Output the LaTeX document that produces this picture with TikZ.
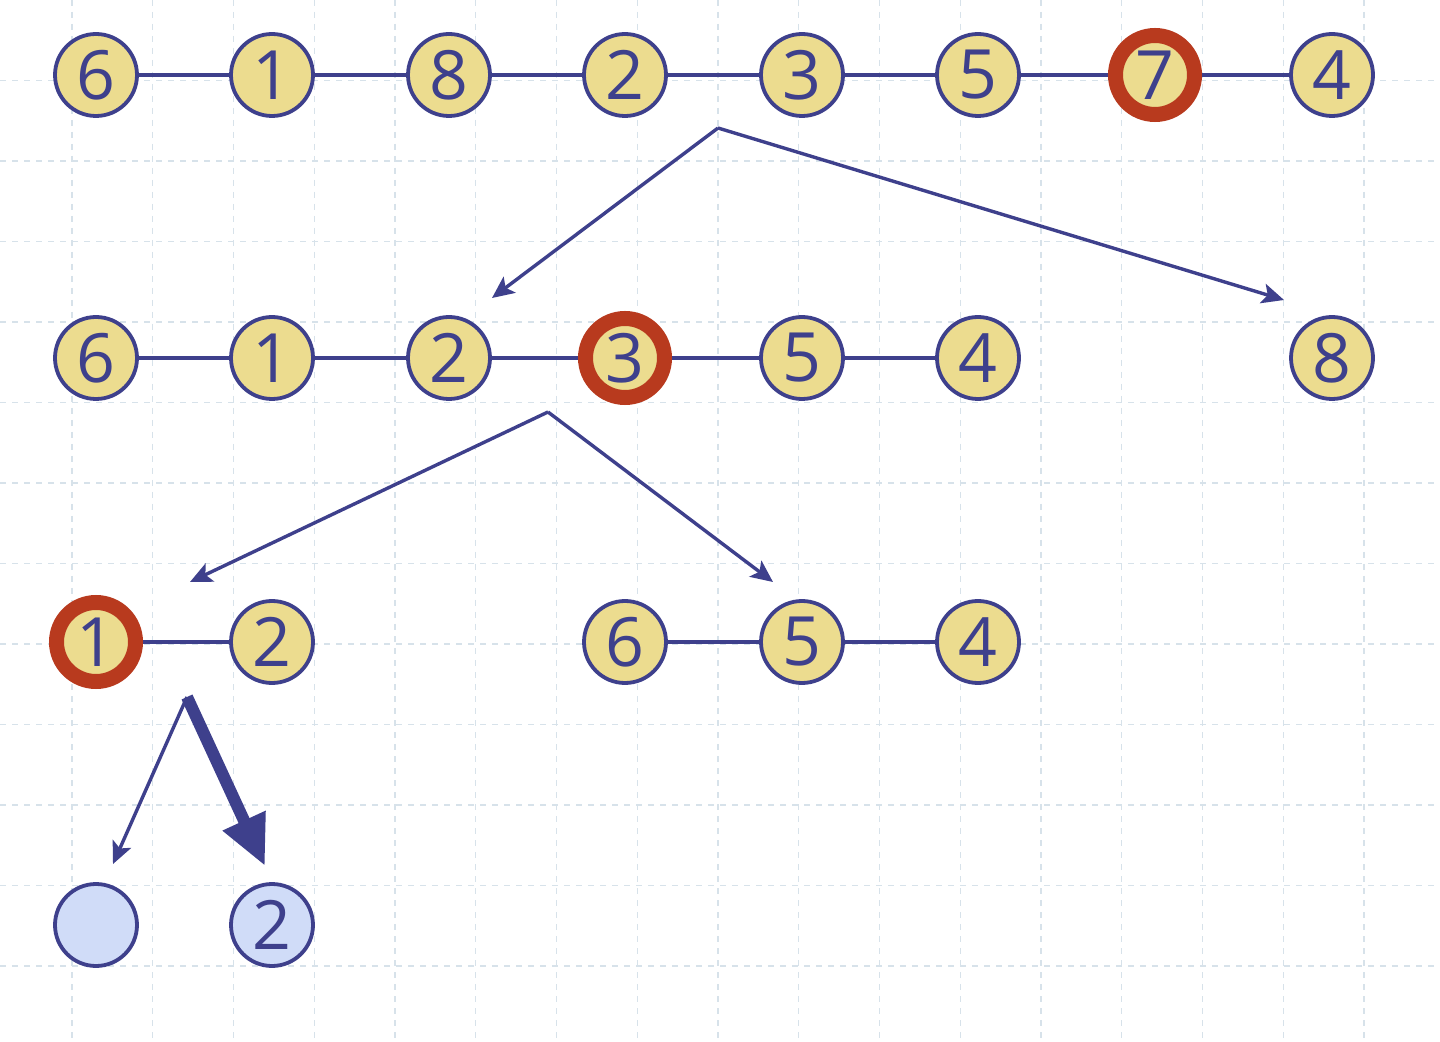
\documentclass[tikz,border=0pt]{standalone}
\usepackage{fontspec}
\setmainfont{Open Sans}
\usetikzlibrary{arrows.meta}
\definecolor{navy}{RGB}{62,64,140}
\definecolor{sand}{RGB}{236,220,143}
\definecolor{rust}{RGB}{184,58,30}
\definecolor{pale}{RGB}{208,220,248}
\definecolor{gridc}{RGB}{215,226,234}
\tikzset{
  nd/.style={circle,draw=navy,fill=sand,line width=1.9pt,minimum size=41pt,inner sep=0pt,text=navy,font=\fontsize{34}{34}\selectfont},
  hot/.style={nd,draw=rust,line width=7.5pt,minimum size=39.5pt},
  leaf/.style={nd,fill=pale},
  link/.style={draw=navy,line width=2pt},
  arr/.style={draw=navy,line width=1.7pt,-{Stealth[length=11pt,width=10pt,inset=2.5pt]}},
  bigarr/.style={draw=navy,line width=6pt,-{Triangle[length=25pt,width=22pt]}},
}
\begin{document}
\begin{tikzpicture}[x=0.5pt,y=-0.5pt]
\useasboundingbox (0,0) rectangle (1440,1042);
\fill[white] (0,0) rectangle (1440,1042);
\foreach \i in {0,...,17} \draw[gridc,line width=0.6pt,dashed] ({72+80.75*\i},0) -- ({72+80.75*\i},1042);
\foreach \j in {1,...,12} \draw[gridc,line width=0.6pt,dashed] (0,{80.5*\j}) -- (1440,{80.5*\j});
% row 1
\node[nd]  (a1) at (96,75) {6};
\node[nd]  (a2) at (272,75) {1};
\node[nd]  (a3) at (449,75) {8};
\node[nd]  (a4) at (625,75) {2};
\node[nd]  (a5) at (802,75) {3};
\node[nd]  (a6) at (978,75) {5};
\node[hot] (a7) at (1155,75) {7};
\node[nd]  (a8) at (1332,75) {4};
\foreach \p/\q in {a1/a2,a2/a3,a3/a4,a4/a5,a5/a6,a6/a7,a7/a8} \draw[link] (\p) -- (\q);
% row 2
\node[nd]  (b1) at (96,358) {6};
\node[nd]  (b2) at (272,358) {1};
\node[nd]  (b3) at (449,358) {2};
\node[hot] (b4) at (625,358) {3};
\node[nd]  (b5) at (802,358) {5};
\node[nd]  (b6) at (978,358) {4};
\node[nd]  (b7) at (1332,358) {8};
\foreach \p/\q in {b1/b2,b2/b3,b3/b4,b4/b5,b5/b6} \draw[link] (\p) -- (\q);
% row 3
\node[hot] (c1) at (96,642) {1};
\node[nd]  (c2) at (272,642) {2};
\node[nd]  (c3) at (625,642) {6};
\node[nd]  (c4) at (802,642) {5};
\node[nd]  (c5) at (978,642) {4};
\foreach \p/\q in {c1/c2,c3/c4,c4/c5} \draw[link] (\p) -- (\q);
% row 4
\node[leaf] (d1) at (96,925) {};
\node[leaf] (d2) at (272,925) {2};
% arrows
\coordinate (s1) at (718,128);
\coordinate (t1) at (492,298);
\coordinate (t2) at (1284,300);
\coordinate (s2) at (548,412);
\coordinate (t3) at (190,582);
\coordinate (t4) at (773,582);
\coordinate (s3) at (187,697);
\coordinate (t5) at (113,864);
\coordinate (t6) at (265,866);
\draw[arr] (s1) -- (t1);
\draw[arr] (s1) -- (t2);
\draw[arr] (s2) -- (t3);
\draw[arr] (s2) -- (t4);
\draw[arr] (s3) -- (t5);
\draw[bigarr] (s3) -- (t6);
\end{tikzpicture}
\end{document}
